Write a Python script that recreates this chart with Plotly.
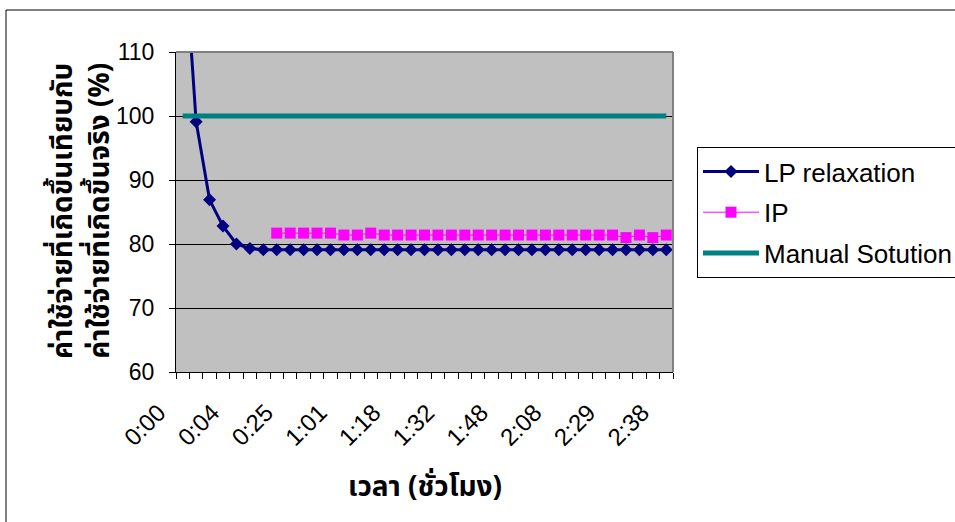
import numpy as np
import plotly.graph_objects as go

# Time axis: one category per solver snapshot, labelled every 4th category
time_labels = ["0:00", "0:04", "0:25", "1:01", "1:18", "1:32", "1:48", "2:08", "2:29", "2:38"]
label_step = 4

# Cost relative to actual cost (%)
lp_relaxation = [
    130.0, 99.1, 86.9, 82.8, 80.0, 79.3, 79.1, 79.1, 79.1, 79.1,
    79.1, 79.1, 79.1, 79.1, 79.1, 79.1, 79.1, 79.1, 79.1, 79.1,
    79.1, 79.1, 79.1, 79.1, 79.1, 79.1, 79.1, 79.1, 79.1, 79.1,
    79.1, 79.1, 79.1, 79.1, 79.1, 79.1, 79.1,
]
ip = [
    None, None, None, None, None, None, None, 81.7, 81.7, 81.7,
    81.7, 81.7, 81.4, 81.4, 81.7, 81.4, 81.4, 81.4, 81.4, 81.4,
    81.4, 81.4, 81.4, 81.4, 81.4, 81.4, 81.4, 81.4, 81.4, 81.4,
    81.4, 81.4, 81.4, 81.0, 81.4, 81.0, 81.4,
]
manual_solution = [
    100, 100, 100, 100, 100, 100, 100, 100, 100, 100,
    100, 100, 100, 100, 100, 100, 100, 100, 100, 100,
    100, 100, 100, 100, 100, 100, 100, 100, 100, 100,
    100, 100, 100, 100, 100, 100, 100,
]

x = np.arange(len(lp_relaxation))
tick_positions = x[::label_step]

FONT = "Arial, Liberation Sans, sans-serif"
THAI_FONT = "Tahoma, Noto Sans Thai, Loma, sans-serif"

fig = go.Figure()
fig.add_trace(go.Scatter(
    x=x, y=lp_relaxation, name="LP relaxation", legendgroup="a",
    mode="lines+markers",
    line=dict(color="#000080", width=3),
    marker=dict(symbol="diamond", size=10, color="#000080"),
))
fig.add_trace(go.Scatter(
    x=x, y=ip, name="IP", legendgroup="b",
    mode="lines+markers",
    line=dict(color="#FF00FF", width=1),
    marker=dict(symbol="square", size=11, color="#FF00FF"),
))
fig.add_trace(go.Scatter(
    x=x, y=manual_solution, name="Manual Sotution", legendgroup="c",
    mode="lines",
    line=dict(color="#008080", width=5),
))

# plot-area geometry in pixels
L, R, T, B = 176, 673, 52, 372
W, H = 955, 522
pw, ph = R - L, B - T


def px_x(p):
    return (p - L) / pw


def px_y(p):
    return (B - p) / ph


fig.update_layout(
    width=W, height=H,
    margin=dict(l=L, r=W - R, t=T, b=H - B, pad=0, autoexpand=False),
    paper_bgcolor="white",
    plot_bgcolor="#C0C0C0",
    font=dict(family=FONT, color="black", size=21),
    showlegend=True,
    legend=dict(
        x=px_x(697), y=px_y(147), xanchor="left", yanchor="top",
        bordercolor="black", borderwidth=1, bgcolor="white",
        font=dict(family=FONT, size=26, color="black"),
        tracegroupgap=4, itemwidth=56,
    ),
    xaxis=dict(
        range=[-0.5, len(x) - 0.5],
        tickmode="array", tickvals=tick_positions, ticktext=time_labels,
        tickangle=-45, ticks="", showgrid=False, zeroline=False,
        showline=True, linecolor="black", linewidth=1,
        tickfont=dict(family=FONT, size=24, color="black"),
        ticklabelstandoff=16, ticklabelshift=-24,
        minor=dict(ticks="outside", tick0=0.5, dtick=1, ticklen=6,
                   tickcolor="black", tickwidth=1, showgrid=False),
    ),
    yaxis=dict(
        range=[60, 110], dtick=10, tick0=60,
        ticks="outside", ticklen=6, tickcolor="black",
        showgrid=True, gridcolor="black", gridwidth=1, zeroline=False,
        showline=True, linecolor="black", linewidth=1,
        ticklabelstandoff=10,
        tickfont=dict(family=FONT, size=23, color="black"),
    ),
    shapes=[
        # gray plot-area frame (top and right)
        dict(type="line", xref="paper", yref="paper", x0=0, x1=1, y0=1, y1=1,
             line=dict(color="#808080", width=2), layer="above"),
        dict(type="line", xref="paper", yref="paper", x0=1, x1=1, y0=0, y1=1,
             line=dict(color="#808080", width=2), layer="above"),
        # chart frame
        dict(type="rect", xref="paper", yref="paper",
             x0=px_x(6), x1=px_x(970), y0=px_y(540), y1=px_y(10),
             line=dict(color="black", width=1), fillcolor="rgba(0,0,0,0)",
             layer="above"),
    ],
    annotations=[
        dict(text="<b>ค่าใช้จ่ายที่เกิดขึ้นเทียบกับ<br>ค่าใช้จ่ายที่เกิดขึ้นจริง (%)</b>",
             xref="paper", yref="paper", x=px_x(82), y=px_y(211),
             xanchor="center", yanchor="middle", textangle=-90, showarrow=False,
             font=dict(family=THAI_FONT, size=28, color="black")),
        dict(text="<b>เวลา (ชั่วโมง)</b>",
             xref="paper", yref="paper", x=px_x(425), y=px_y(487),
             xanchor="center", yanchor="middle", showarrow=False,
             font=dict(family=THAI_FONT, size=28, color="black")),
    ],
)

fig.write_html("out.html")
